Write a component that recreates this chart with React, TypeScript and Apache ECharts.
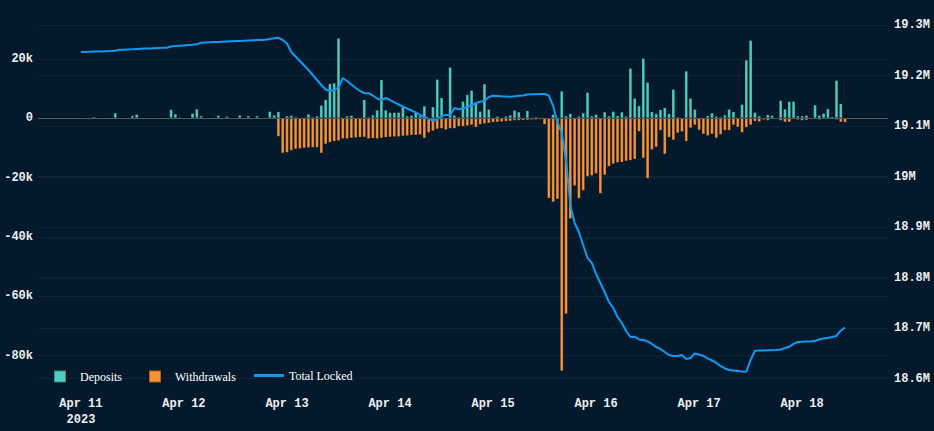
import { useEffect, useRef } from 'react';
import * as echarts from 'echarts';

const HOUR = 3600000;
const START = new Date(2023, 3, 11, 0, 0, 0).getTime();

const deposits = [
  0, 0, 0, 500, 0, 0, 0, 300, 1800, 0,
  0, 300, 900, 1350, 0, 0, 200, 200, 0, 0,
  300, 3000, 1450, 400, 0, 200, 1700, 3150, 800, 0,
  0, 300, 1000, 0, 700, 200, 0, 1100, 0, 800,
  0, 800, 0, 300, 2350, 1100, 2250, 0, 800, 1000,
  450, 0, 350, 1450, 450, 800, 4400, 6300, 11700, 11900,
  27000, 300, 800, 1000, 200, 200, 6300, 450, 1100, 2800,
  13000, 2800, 2000, 2000, 2000, 3900, 800, 1000, 1900, 800,
  4150, 300, 3900, 13150, 6950, 300, 17200, 1000, 450, 5700,
  8000, 9450, 5050, 2350, 11600, 3050, 300, 700, 300, 700,
  1100, 2700, 2150, 300, 2600, 300, 450, 300, 300, 0,
  1350, 300, 9200, 800, 1600, 300, 700, 1800, 8750, 800,
  1350, 300, 2150, 800, 2350, 900, 2150, 700, 16850, 6750,
  4250, 20200, 12150, 2250, 1600, 2900, 3600, 1600, 9800, 450,
  0, 15950, 6750, 3050, 300, 300, 900, 1800, 700, 450,
  1100, 3050, 2250, 300, 4700, 19650, 26300, 2000, 800, 0,
  1250, 1000, 100, 6050, 3150, 5700, 5700, 800, 800, 1000,
  300, 4500, 1000, 1700, 3250, 550, 12800, 4950, 0,
];

const withdrawals = [
  0, 0, 0, 0, 0, 0, 0, 0, 0, 0,
  0, 0, 0, 0, 0, 0, 0, 0, 0, 0,
  0, 0, 0, 0, 0, 0, 0, 0, 0, 0,
  0, 0, 0, 0, 0, 0, 0, 0, 0, 0,
  0, 0, 0, 0, 0, 0, -6200, -11800, -11600, -10900,
  -10450, -10300, -10100, -10000, -9900, -9900, -11800, -8750, -8200, -7850,
  -7650, -6950, -6950, -6750, -6650, -6500, -6400, -6950, -6850, -6950,
  -6750, -6500, -6400, -6300, -6300, -6050, -5950, -5750, -5750, -5600,
  -6750, -4900, -4300, -3700, -3500, -3950, -3500, -3500, -2800, -2800,
  -2600, -2350, -3050, -2150, -1900, -1700, -1450, -1350, -1250, -1100,
  -1000, -800, -800, -700, -700, -550, -550, -450, -2150, -27000,
  -28300, -27300, -85200, -66000, -33900, -22800, -27100, -24400, -19700, -19400,
  -18700, -25400, -19200, -16300, -15450, -15000, -14900, -14500, -14250, -13850,
  -4500, -13500, -20350, -10650, -9750, -4150, -12150, -6500, -7400, -5050,
  -4600, -7850, -3350, -2350, -4050, -5400, -5950, -5400, -6750, -5550,
  -4150, -4150, -2350, -3050, -4850, -3150, -2350, -1100, -1250, -550,
  -800, -350, -350, -800, -1350, -1350, -350, -550, -800, -700,
  -350, -350, -550, -350, -350, -250, -550, -1350, -1450,
];

const totalLocked = [
  19246500, 19246700, 19246900, 19247300, 19247500, 19247700, 19248100, 19248500, 19249100, 19250900,
  19251100, 19251500, 19251900, 19252500, 19252900, 19253300, 19253700, 19254100, 19254500, 19254900,
  19255100, 19257400, 19258400, 19259000, 19259600, 19260200, 19260800, 19261800, 19265000, 19265400,
  19265700, 19266100, 19266500, 19266900, 19267300, 19267700, 19268100, 19268500, 19268900, 19269300,
  19269700, 19270100, 19270500, 19270900, 19272300, 19273900, 19274700, 19270300, 19263400, 19246500,
  19237600, 19228700, 19219800, 19210900, 19201000, 19191100, 19181200, 19172300, 19169300, 19171300,
  19176300, 19195100, 19189100, 19182200, 19175300, 19169300, 19165400, 19165000, 19160400, 19154500,
  19151500, 19155500, 19151500, 19146600, 19142600, 19138600, 19134700, 19130700, 19126800, 19121800,
  19117800, 19113900, 19110900, 19112900, 19119800, 19121800, 19121800, 19135700, 19133100, 19134700,
  19137600, 19141600, 19145600, 19148100, 19149500, 19157400, 19160000, 19159400, 19158800, 19158400,
  19158000, 19158800, 19159800, 19160400, 19162400, 19163000, 19163000, 19163400, 19163400, 19160400,
  19139600, 19107900, 19086200, 19032700, 18943600, 18908000, 18890100, 18864400, 18838700, 18828800,
  18807000, 18789200, 18771300, 18751500, 18739700, 18721800, 18710000, 18694100, 18682200, 18682800,
  18677300, 18676300, 18673300, 18668400, 18662400, 18658500, 18652500, 18646600, 18644600, 18644600,
  18646600, 18638700, 18640700, 18649600, 18647600, 18644600, 18639700, 18635700, 18630800, 18624800,
  18619900, 18616900, 18615900, 18614900, 18613900, 18613500, 18636700, 18655100, 18655500, 18655500,
  18655900, 18656100, 18656500, 18657500, 18660500, 18663000, 18668400, 18672300, 18672900, 18673300,
  18673700, 18674300, 18677700, 18679300, 18680700, 18682200, 18684200, 18695100, 18700700,
];

const xTickDays = [11, 12, 13, 14, 15, 16, 17, 18];
const xTickLabels = ['Apr 11\n2023', 'Apr 12', 'Apr 13', 'Apr 14', 'Apr 15', 'Apr 16', 'Apr 17', 'Apr 18'];
const leftTicks = [-80000, -60000, -40000, -20000, 0, 20000];
const leftTickLabels = ['-80k', '-60k', '-40k', '-20k', '0', '20k'];
const rightTicks = [18600000, 18700000, 18800000, 18900000, 19000000, 19100000, 19200000, 19300000];
const rightTickLabels = ['18.6M', '18.7M', '18.8M', '18.9M', '19M', '19.1M', '19.2M', '19.3M'];
const seriesNames = ['Deposits', 'Withdrawals', 'Total Locked'];

const BG = '#041a2c';
const GRID_LINE = 'rgba(255,255,255,0.045)';
const TEAL = '#4ecdc4';
const ORANGE = '#f8923a';
const BLUE = '#0f9af0';
const LABEL_FONT = {
  color: '#eeeeee',
  fontFamily: '"Liberation Mono", "DejaVu Sans Mono", monospace',
  fontWeight: 'bold' as const,
  fontSize: 12,
};
// square centred in a 30x12 box (the leading moves keep the box size)
const SQUARE = 'path://M0,0M30,12M9,0H21V12H9Z';
const LINE_ICON = 'path://M0,0M30,12M0,4.5H30V7.5H0Z';

export default function App() {
  const ref = useRef<HTMLDivElement>(null);

  useEffect(() => {
    if (!ref.current) return;
    const chart = echarts.init(ref.current, undefined, { renderer: 'svg' });
    const times = deposits.map((_, i) => START + i * HOUR);
    const xTicks = xTickDays.map((d) => new Date(2023, 3, d, 0, 0, 0).getTime());

    const legendLefts = [44, 139, 254];
    const legendIcons = [SQUARE, SQUARE, LINE_ICON];

    chart.setOption({
      animation: false,
      backgroundColor: BG,
      grid: { left: 38, right: 46, top: 25, bottom: 52.5 },
      legend: seriesNames.map((name, i) => ({
        left: legendLefts[i],
        top: 369.5,
        padding: 0,
        itemWidth: 30,
        itemHeight: 12,
        textStyle: { color: '#ffffff', fontFamily: '"Liberation Serif", serif', fontSize: 12 },
        data: [{ name, icon: legendIcons[i] }],
      })),
      xAxis: {
        type: 'value',
        min: START - 10 * HOUR,
        max: START + 188 * HOUR,
        axisLine: { show: false },
        axisTick: { show: false, customValues: xTicks },
        splitLine: { show: false },
        axisLabel: {
          ...LABEL_FONT,
          customValues: xTicks,
          margin: 17,
          lineHeight: 16,
          formatter: (v: number) => {
            const i = xTicks.findIndex((t) => Math.abs(t - v) < 1000);
            return i >= 0 ? xTickLabels[i] : '';
          },
        },
      },
      yAxis: [
        {
          type: 'value',
          min: -87700,
          max: 31400,
          axisLine: { show: false },
          axisTick: { show: false, customValues: leftTicks },
          splitLine: { show: true, lineStyle: { color: GRID_LINE, width: 1 } },
          axisLabel: {
            ...LABEL_FONT,
            margin: 5,
            customValues: leftTicks,
            formatter: (v: number) => {
              const i = leftTicks.indexOf(v);
              return i >= 0 ? leftTickLabels[i] : '';
            },
          },
        },
        {
          type: 'value',
          position: 'right',
          min: 18600000,
          max: 19300000,
          interval: 100000,
          axisLine: { show: false },
          axisTick: { show: false },
          splitLine: { show: true, lineStyle: { color: GRID_LINE, width: 1 } },
          axisLabel: {
            ...LABEL_FONT,
            margin: 6,
            formatter: (v: number) => {
              const i = rightTicks.findIndex((t) => Math.abs(t - v) < 1);
              return i >= 0 ? rightTickLabels[i] : '';
            },
          },
        },
      ],
      series: [
        {
          name: seriesNames[0],
          type: 'bar',
          yAxisIndex: 0,
          barWidth: 3.4,
          barGap: '-100%',
          itemStyle: { color: TEAL, borderColor: 'rgba(0,0,0,0.3)', borderWidth: 0.7 },
          data: times.map((t, i) => [t, deposits[i]]),
          markLine: {
            silent: true,
            symbol: 'none',
            label: { show: false },
            lineStyle: { color: '#5e5649', width: 1, type: 'solid' },
            data: [{ yAxis: 0 }],
          },
        },
        {
          name: seriesNames[1],
          type: 'bar',
          yAxisIndex: 0,
          barWidth: 3.4,
          barGap: '-100%',
          itemStyle: { color: ORANGE, borderColor: 'rgba(0,0,0,0.3)', borderWidth: 0.7 },
          data: times.map((t, i) => [t, withdrawals[i]]),
        },
        {
          name: seriesNames[2],
          type: 'line',
          yAxisIndex: 1,
          symbol: 'none',
          showSymbol: false,
          lineStyle: { color: BLUE, width: 2 },
          itemStyle: { color: BLUE },
          data: times.map((t, i) => [t, totalLocked[i]]),
          z: 3,
        },
      ],
    });

    return () => chart.dispose();
  }, []);

  return (
    <div
      ref={ref}
      style={{ position: 'fixed', left: 0, top: 0, width: 934, height: 431, background: BG }}
    />
  );
}
